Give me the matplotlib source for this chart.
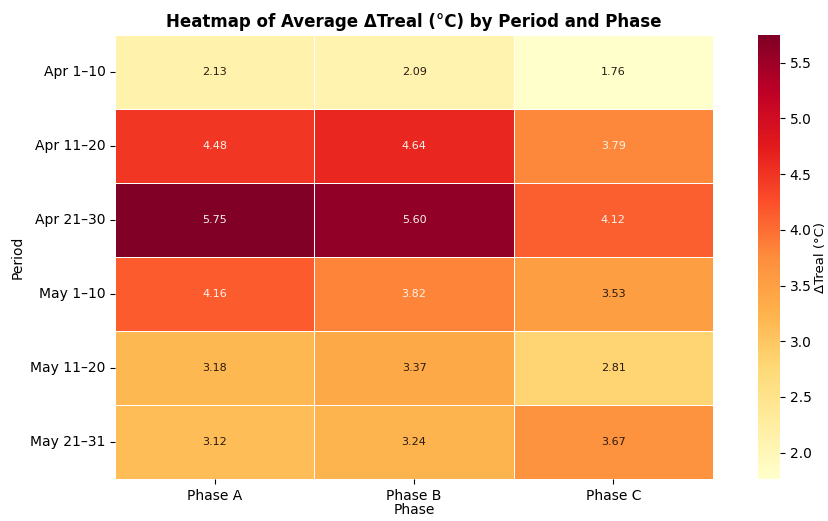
import matplotlib
matplotlib.use("Agg")
import matplotlib.pyplot as plt
import seaborn as sns
import numpy as np
import pandas as pd

periods = ["Apr 1–10", "Apr 11–20", "Apr 21–30", "May 1–10", "May 11–20", "May 21–31"]
phases = ["Phase A", "Phase B", "Phase C"]
phase_a = [2.13, 4.48, 5.75, 4.16, 3.18, 3.12]
phase_b = [2.09, 4.64, 5.60, 3.82, 3.37, 3.24]
phase_c = [1.76, 3.79, 4.12, 3.53, 2.81, 3.67]

df = pd.DataFrame({"Phase A": phase_a, "Phase B": phase_b, "Phase C": phase_c}, index=periods)

fig = plt.figure(figsize=(8.29, 5.21), dpi=100)
ax = fig.add_axes([0.139, 0.08, 0.721, 0.853])
cax = fig.add_axes([0.914, 0.08, 0.027, 0.853])

sns.heatmap(df, ax=ax, cbar_ax=cax, cmap="YlOrRd", annot=True, fmt=".2f",
            linewidths=0.6, linecolor="white", annot_kws={"size": 8},
            cbar_kws={"label": "ΔTreal (°C)"})

# light text on the darker cells
for t in ax.texts:
    t.set_color("#f8f4ea" if float(t.get_text()) >= 3.7 else "#2a1a10")

ax.set_title("Heatmap of Average ΔTreal (°C) by Period and Phase", fontsize=12, fontweight="bold", pad=6)
ax.set_xlabel("Phase", fontsize=10, labelpad=0)
ax.set_ylabel("Period", fontsize=10)
ax.tick_params(axis="both", labelsize=10)
ax.set_yticklabels(periods, rotation=0)
cax.tick_params(labelsize=10)
cax.set_ylabel("ΔTreal (°C)", fontsize=9.5, labelpad=2)

fig.savefig("out.png", dpi=100)
